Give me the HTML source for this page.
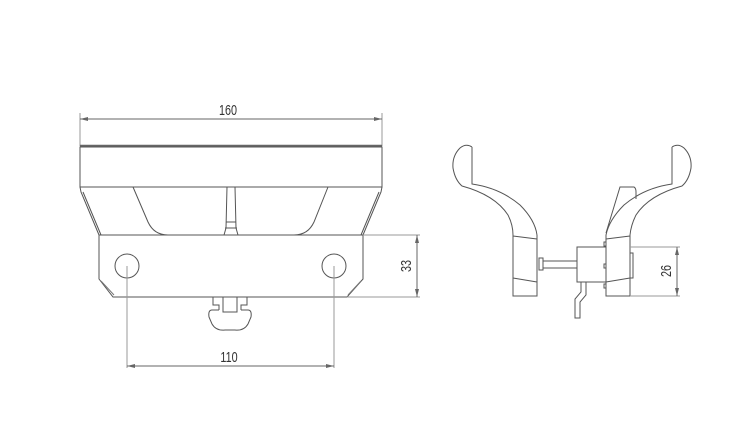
<!DOCTYPE html>
<html><head><style>html,body{margin:0;padding:0;background:#fff}svg{display:block}</style></head>
<body>
<svg width="745" height="441" viewBox="0 0 745 441" xmlns="http://www.w3.org/2000/svg" font-family="Liberation Sans, sans-serif">
<g fill="none" stroke="#555" stroke-width="1">
<line x1="80" y1="113" x2="80" y2="146" stroke="#999"/>
<line x1="382" y1="113" x2="382" y2="146" stroke="#999"/>
<line x1="80" y1="119" x2="382" y2="119" stroke="#666"/>
<path d="M80 119 l8 -2 v4 z M382 119 l-8 -2 v4 z" fill="#666" stroke="none"/>
<line x1="80" y1="146" x2="382" y2="146" stroke="#666" stroke-width="2.5"/>
<rect x="80" y="147" width="302" height="40"/>
<path d="M80 187 L81 192 L99 235 M83 192 L101 235"/>
<path d="M382 187 L381 192 L363 235 M379 192 L361 235"/>
<path d="M133 187 L148 222 Q154 235 168 235 M328 187 L314 222 Q308 235 294 235"/>
<path d="M227 187 L226 228 L224 235 M235 187 L236 228 L238 235 M226 222 H236 M225 228 H237"/>
<path d="M99 235 V279 L113 297 H347 L363 279 V235 Z"/>
<path d="M101 281 L114 295 M361 281 L348 295" stroke="#777"/>
<circle cx="127" cy="266" r="12"/>
<circle cx="334" cy="266" r="12"/>
<path d="M213 297 V305 H219 V310 M247 297 V305 H241 V310 M223 297 V312 H237 V297"/>
<path d="M219 310 H212 Q208 310 209 317 L212 324 Q216 331 225 330 H235 Q244 331 248 324 L251 317 Q252 310 248 310 H241"/>
<line x1="127" y1="266" x2="127" y2="368" stroke="#999"/>
<line x1="334" y1="266" x2="334" y2="368" stroke="#999"/>
<line x1="127" y1="366" x2="334" y2="366" stroke="#666"/>
<path d="M127 366 l8 -2 v4 z M334 366 l-8 -2 v4 z" fill="#666" stroke="none"/>
<line x1="363" y1="235" x2="420" y2="235" stroke="#999"/>
<line x1="347" y1="297" x2="420" y2="297" stroke="#999"/>
<line x1="417" y1="235" x2="417" y2="297" stroke="#666"/>
<path d="M417 235 l-2 8 h4 z M417 297 l-2 -8 h4 z" fill="#666" stroke="none"/>

<path d="M472 147 Q466 143 460 148 Q452 156 453 168 Q455 180 462 186 Q495 195 508 215 Q513 225 513 235"/>
<path d="M472 147 V184 Q500 188 520 205 Q535 220 537 235"/>
<path d="M513 235 V296 H537 V235 M513 236 L537 239 M513 278 L537 282"/>
<rect x="539" y="258" width="4" height="12"/>
<path d="M543 261 H577 M543 268 H577"/>
<rect x="577" y="247" width="29" height="35"/>
<path d="M606 261 L606 268"/>
<path d="M581 282 V292 L575 299 V318 H580 V302 L586 295 V282"/>
<path d="M606 235 V296 H630 V235 M606 239 L630 236 M606 282 L630 278"/>
<rect x="604" y="242" width="2" height="4"/>
<rect x="604" y="264" width="2" height="4"/>
<rect x="604" y="284" width="2" height="4"/>
<rect x="630" y="253" width="3" height="25"/>
<path d="M672 147 Q678 143 684 148 Q692 156 691 168 Q689 180 682 186 Q649 195 636 215 Q631 225 630 235"/>
<path d="M672 147 V184 Q644 188 624 205 Q609 220 606 235"/>
<path d="M606 233 L620 187 H634 Q636 188 636 192 L636 199"/>
<line x1="630" y1="247" x2="680" y2="247" stroke="#999"/>
<line x1="630" y1="296" x2="680" y2="296" stroke="#999"/>
<line x1="677" y1="247" x2="677" y2="296" stroke="#666"/>
<path d="M677 247 l-2 8 h4 z M677 296 l-2 -8 h4 z" fill="#666" stroke="none"/>
</g>
<g fill="#333" font-size="15">
<text transform="translate(228 115) scale(0.72 1)" text-anchor="middle">160</text>
<text transform="translate(229 362) scale(0.72 1)" text-anchor="middle">110</text>
<text transform="translate(411 266) rotate(-90) scale(0.72 1)" text-anchor="middle">33</text>
<text transform="translate(671 271) rotate(-90) scale(0.72 1)" text-anchor="middle">26</text>
</g>
</svg>
</body></html>
